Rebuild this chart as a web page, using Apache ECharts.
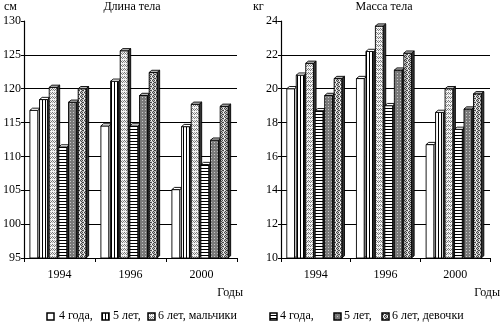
<!DOCTYPE html>
<html><head><meta charset="utf-8">
<script src="https://cdn.jsdelivr.net/npm/echarts@6/dist/echarts.min.js"></script>
<style>html,body{margin:0;padding:0;background:#fff}#c{width:500px;height:329px}</style>
</head><body><div id="c"></div>
<script>
// ---- data ----
const categories = ['1994', '1996', '2000'];
const lengthBoys4  = [116.8, 114.5, 105.1];
const lengthBoys5  = [118.4, 121.1, 114.4];
const lengthBoys6  = [120.2, 125.6, 117.7];
const lengthGirls4 = [111.4, 114.5, 108.8];
const lengthGirls5 = [118.0, 119.0, 112.4];
const lengthGirls6 = [120.0, 122.4, 117.4];
const massBoys4  = [20.0, 20.6, 16.7];
const massBoys5  = [20.8, 22.2, 18.6];
const massBoys6  = [21.5, 23.7, 20.0];
const massGirls4 = [18.7, 19.0, 17.6];
const massGirls5 = [19.6, 21.1, 18.8];
const massGirls6 = [20.6, 22.1, 19.7];
const seriesNames = ['4 года', '5 лет', '6 лет'];
const legendBoys  = ['4 года,', '5 лет,', '6 лет, мальчики'];
const legendGirls = ['4 года,', '5 лет,', '6 лет, девочки'];

// ---- patterns ----
function pat(w, h, draw) {
  const c = document.createElement('canvas'); c.width = w; c.height = h;
  const g = c.getContext('2d'); draw(g); return { image: c, repeat: 'repeat' };
}
const fillBoy4 = '#ffffff';
const fillBoy5 = pat(3, 3, g => { g.fillStyle = '#fff'; g.fillRect(0,0,3,3); g.fillStyle = '#000'; g.fillRect(0,0,1,3); });
const fillBoy6 = pat(4, 4, g => { g.fillStyle = '#f4f4f4'; g.fillRect(0,0,4,4); g.fillStyle = '#777';
  [[0,0],[1,1],[2,2],[3,1]].forEach(p => g.fillRect(p[0], p[1], 1, 1)); g.fillStyle = '#aaa'; g.fillRect(0,2,1,1); g.fillRect(2,0,1,1); });
const fillGirl4 = pat(3, 3, g => { g.fillStyle = '#fff'; g.fillRect(0,0,3,3); g.fillStyle = '#000'; g.fillRect(0,0,3,1); });
const fillGirl5 = pat(3, 3, g => { g.fillStyle = '#7a7a7a'; g.fillRect(0,0,3,3); g.fillStyle = '#c8c8c8'; g.fillRect(1,1,1,1); });
const fillGirl6 = pat(4, 4, g => { g.fillStyle = '#c4c4c4'; g.fillRect(0,0,4,4); g.fillStyle = '#444';
  [[0,0],[2,0],[1,1],[3,2],[1,3],[2,2]].forEach(p => g.fillRect(p[0], p[1], 1, 1)); g.fillStyle = '#fff'; g.fillRect(3,0,1,1); g.fillRect(0,2,1,1); });
const fills = [fillBoy4, fillBoy5, fillBoy6, fillGirl4, fillGirl5, fillGirl6];

function render(idx, axisMin) {
  return function (params, api) {
    const cat = api.value(0), val = api.value(1);
    const band = api.size([1, 0])[0];
    const top = api.coord([cat, val]);
    const base = api.coord([cat, axisMin]);
    const x0 = top[0] + band * (-0.417 + idx * 0.136);
    const w = band * 0.111, d = 2.6, dy = 2.2;
    const y0 = top[1], yb = base[1];
    const st = { stroke: '#000', lineWidth: 0.9 };
    return { type: 'group', children: [
      { type: 'polygon', shape: { points: [[x0 + w, y0], [x0 + w + d, y0 - dy], [x0 + w + d, yb - dy], [x0 + w, yb]] },
        style: Object.assign({ fill: idx === 0 ? '#fff' : '#333' }, st) },
      { type: 'rect', shape: { x: x0, y: y0, width: w, height: yb - y0 }, style: Object.assign({ fill: fills[idx] }, st) },
      { type: 'polygon', shape: { points: [[x0, y0], [x0 + w, y0], [x0 + w + d, y0 - dy], [x0 + d, y0 - dy]] },
        style: Object.assign({ fill: idx === 0 || idx === 1 || idx === 3 ? '#fff' : '#bbb' }, st) }
    ]};
  };
}

const font = 'Liberation Serif';
const txt = { fontFamily: font, fontSize: 12, color: '#000' };
function xAxis(gi) {
  return { gridIndex: gi, type: 'category', data: categories, boundaryGap: true,
    axisLine: { lineStyle: { color: '#000', width: 1.2 } },
    axisTick: { show: true, length: 4, lineStyle: { color: '#000' } },
    axisLabel: Object.assign({ margin: 11 }, txt), splitLine: { show: false } };
}
function yAxis(gi, min, max, interval) {
  return { gridIndex: gi, type: 'value', min, max, interval,
    axisLine: { show: true, lineStyle: { color: '#000', width: 1.2 } },
    axisTick: { show: true, length: 3, lineStyle: { color: '#000' } },
    axisLabel: Object.assign({ margin: 3 }, txt),
    splitLine: { show: true, showMinLine: false, showMaxLine: false, lineStyle: { color: '#000', width: 1.2 } } };
}
const leftSets = [lengthBoys4, lengthBoys5, lengthBoys6, lengthGirls4, lengthGirls5, lengthGirls6];
const rightSets = [massBoys4, massBoys5, massBoys6, massGirls4, massGirls5, massGirls6];
const series = [];
leftSets.forEach((arr, i) => series.push({ type: 'custom', name: seriesNames[i % 3], xAxisIndex: 0, yAxisIndex: 0,
  renderItem: render(i, 95), data: arr.map((v, k) => [k, v]), encode: { x: 0, y: 1 } }));
rightSets.forEach((arr, i) => series.push({ type: 'custom', name: seriesNames[i % 3], xAxisIndex: 1, yAxisIndex: 1,
  renderItem: render(i, 10), data: arr.map((v, k) => [k, v]), encode: { x: 0, y: 1 } }));

function t(x, y, s, align) {
  return { type: 'text', x, y, style: Object.assign({ text: s, textAlign: align || 'left', textVerticalAlign: 'middle',
    font: '12px "' + font + '"', fill: '#000' }) };
}
function box(x, y, f) {
  return { type: 'rect', shape: { x, y, width: 7, height: 7 }, style: { fill: f, stroke: '#000', lineWidth: 1.5 } };
}
const graphic = [
  t(4, 7, 'см'), t(132, 7, 'Длина тела', 'center'),
  t(253, 7, 'кг'), t(384, 7, 'Масса тела', 'center'),
  t(243, 293, 'Годы', 'right'), t(500, 293, 'Годы', 'right'),
  box(47, 313, fillBoy4), t(59, 316, legendBoys[0]),
  box(102, 313, fillBoy5), t(113, 316, legendBoys[1]),
  box(148, 313, fillBoy6), t(158, 316, legendBoys[2]),
  box(270, 313, fillGirl4), t(280, 316, legendGirls[0]),
  box(334, 313, fillGirl5), t(344, 316, legendGirls[1]),
  box(382, 313, fillGirl6), t(392, 316, legendGirls[2])
];

const chart = echarts.init(document.getElementById('c'), null, { renderer: 'canvas' });
chart.setOption({
  animation: false,
  backgroundColor: '#fff',
  grid: [
    { left: 23, right: 263, top: 21, bottom: 71, containLabel: false },
    { left: 281, right: 10, top: 21, bottom: 71, containLabel: false }
  ],
  xAxis: [xAxis(0), xAxis(1)],
  yAxis: [yAxis(0, 95, 130, 5), yAxis(1, 10, 24, 2)],
  series,
  graphic
});
</script>
</body></html>
